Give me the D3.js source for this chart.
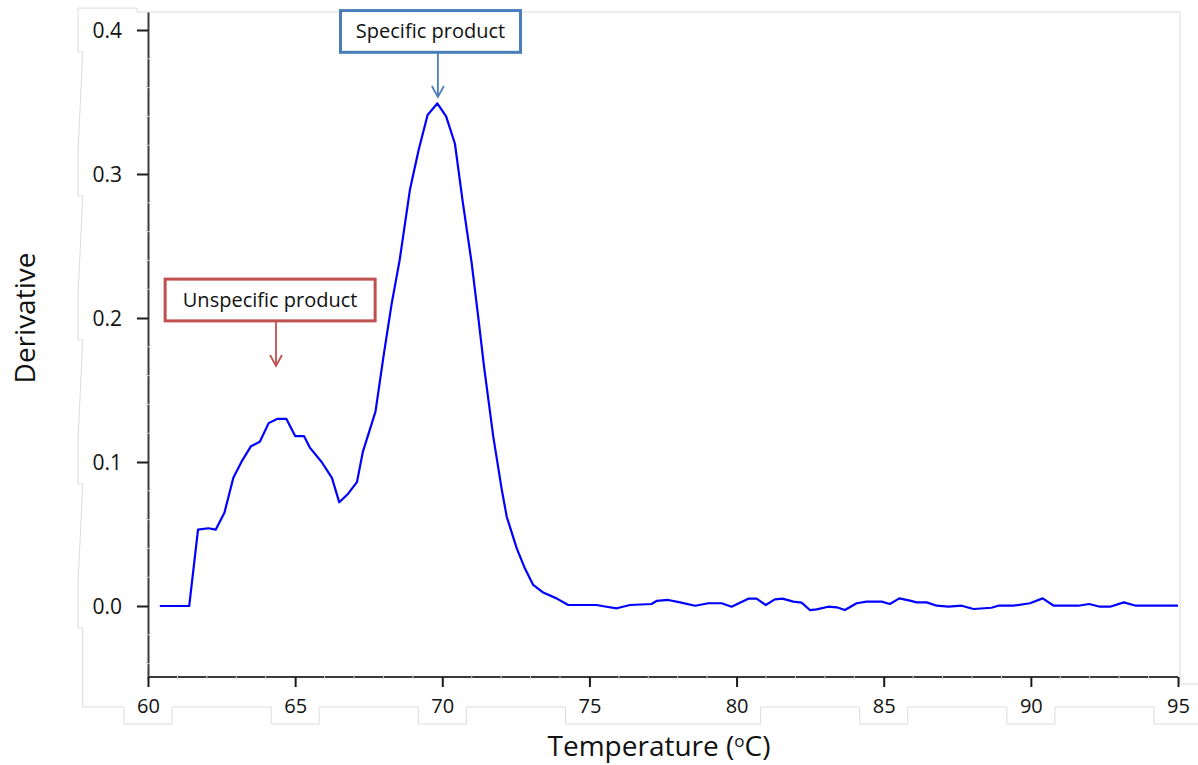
<!DOCTYPE html>
<html>
<head>
<meta charset="utf-8">
<script src="https://cdn.jsdelivr.net/npm/d3@7"></script>
<style>
  body { margin: 0; background: #fff; }
  text { font-family: "Open Sans", "Noto Sans", sans-serif; }
</style>
</head>
<body>
<div id="chart"></div>
<script>
// melt curve
let temps = [60.4, 61.4, 61.7, 62.05, 62.3, 62.6, 62.9, 63.2, 63.5, 63.8, 64.1, 64.4, 64.7,
             65.0, 65.3, 65.5, 65.9, 66.25, 66.5, 66.8, 67.1, 67.3, 67.73, 68.0, 68.28, 68.55,
             68.9, 69.2, 69.5, 69.83, 70.13, 70.43, 70.7, 71.0, 71.22, 71.42, 71.73, 72.02,
             72.19, 72.53, 72.81, 73.09, 73.43, 73.88, 74.28, 75.24, 75.58, 75.93, 76.38,
             77.11, 77.28, 77.68, 78.08, 78.59, 79.04, 79.49, 79.83, 80.4, 80.68, 80.99,
             81.3, 81.56, 81.93, 82.21, 82.49, 82.72, 83.11, 83.4, 83.68, 84.08, 84.42,
             84.93, 85.21, 85.53, 85.89, 86.12, 86.46, 86.8, 87.2, 87.65, 88.05, 88.66,
             88.89, 89.4, 89.97, 90.4, 90.78, 91.61, 91.98, 92.35, 92.69, 93.16, 93.57, 95.0];
let derivative = [0, 0, 0.053, 0.054, 0.053, 0.065, 0.089, 0.101, 0.111, 0.114, 0.127, 0.130, 0.130,
             0.118, 0.118, 0.110, 0.100, 0.089, 0.072, 0.078, 0.086, 0.107, 0.135, 0.173, 0.210, 0.240,
             0.289, 0.317, 0.341, 0.349, 0.340, 0.321, 0.280, 0.238, 0.201, 0.166, 0.118, 0.081,
             0.062, 0.040, 0.026, 0.0146, 0.0093, 0.0053, 0.0007, 0.0007, -0.0005, -0.0016, 0.0007,
             0.0014, 0.0035, 0.0042, 0.0025, 0.0002, 0.0019, 0.0019, -0.0005, 0.0051, 0.0051, 0.0007,
             0.0046, 0.0051, 0.003, 0.0023, -0.0028, -0.0023, -0.0005, -0.0009, -0.0028, 0.0019, 0.003,
             0.003, 0.0014, 0.0053, 0.0037, 0.0025, 0.0025, 0.0002, -0.0005, 0.0002, -0.0021, -0.0012,
             0.0002, 0.0002, 0.0019, 0.0053, 0.0002, 0.0002, 0.0014, -0.0005, -0.0005, 0.0025, 0.0002, 0.0002];

let xTicks = [60, 65, 70, 75, 80, 85, 90, 95];
let yTicks = [0.0, 0.1, 0.2, 0.3, 0.4];
// label panels behind the x tick labels (75 and 80 share one)
let xPanels = [[60, 60], [65, 65], [70, 70], [75, 80], [85, 85], [90, 90], [95, 95]];

let larg = 1198;
let alt = 765;

let svg = d3.select("#chart")
            .append("svg")
            .attr("width", larg)
            .attr("height", alt);

svg.append("rect").attr("width", larg).attr("height", alt).attr("fill", "white");

var x = d3.scaleLinear()
            .domain([60, 95])
            .range([148, 1178]);

var y = d3.scaleLinear()
            .domain([-0.05, 0.4125])
            .range([678, 12]);

// faint panel outline (label backgrounds)
let outline = [[x(95) + 2, 684], [x(95) + 2, y(0.4125)], [137, y(0.4125)], [137, y(0.4) - 22]];
yTicks.slice().reverse().forEach(function(t) {
    outline.push([78, y(t) - 22], [78, y(t) + 22], [82.7, y(t) + 22]);
});
outline.push([82.7, 707]);
xPanels.forEach(function(p) {
    let a = x(p[0]) - 24, b = Math.min(x(p[1]) + 24, larg);
    outline.push([a, 707], [a, 724], [b, 724]);
    if (b < larg) outline.push([b, 707]);
});
svg.append("path")
    .attr("d", d3.line()(outline))
    .attr("fill", "none")
    .attr("stroke", "#dcdcdc")
    .attr("stroke-width", 1);
svg.append("line")
    .attr("x1", x(95) + 2).attr("x2", larg)
    .attr("y1", 684).attr("y2", 684)
    .attr("stroke", "#dcdcdc");

// minor ticks
let yMinor = d3.range(-0.04, 0.41, 0.02).filter(v => Math.abs(v * 10 - Math.round(v * 10)) > 0.01);
let xMinor = d3.range(61, 95, 1).filter(v => v % 5 != 0);

// axes
let yAxis = svg.append("g")
    .attr("transform", "translate(148,0)")
    .call(d3.axisLeft(y).tickValues(yTicks).tickFormat(d3.format(".1f")).tickSize(11).tickPadding(15).tickSizeOuter(0));
let xAxis = svg.append("g")
    .attr("transform", "translate(0,677)")
    .call(d3.axisBottom(x).tickValues(xTicks).tickSize(10).tickPadding(12).tickSizeOuter(0));

[yAxis, xAxis].forEach(function(g) {
    g.select(".domain").attr("stroke", "#3a3a3a").attr("stroke-width", 2);
    g.selectAll(".tick line").attr("stroke", "#1a1a1a").attr("stroke-width", 2);
    g.selectAll(".tick text").attr("fill", "#111").style("font-size", "20px");
});
yAxis.selectAll(".tick text").style("font-size", "21px").attr("dy", "0.38em");
xAxis.select(".domain").attr("d", "M" + x(60) + ",0H" + x(95));

svg.append("g").selectAll("line")
    .data(yMinor)
    .enter()
        .append("line")
        .attr("x1", 146).attr("x2", 150)
        .attr("y1", d => y(d)).attr("y2", d => y(d))
        .attr("stroke", "#d0d0d0");
svg.append("g").selectAll("line")
    .data(xMinor)
    .enter()
        .append("line")
        .attr("x1", d => x(d)).attr("x2", d => x(d))
        .attr("y1", 675).attr("y2", 679)
        .attr("stroke", "#d0d0d0");

// curve
let curve = d3.line()
    .x((d, i) => x(temps[i]))
    .y(d => y(d));
svg.append("path")
    .attr("d", curve(derivative))
    .attr("fill", "none")
    .attr("stroke", "#0000ff")
    .attr("stroke-width", 2.2)
    .attr("stroke-linejoin", "round");

// axis titles
svg.append("text")
    .attr("transform", "translate(35,318) rotate(-90)")
    .attr("text-anchor", "middle")
    .style("font-size", "28px")
    .attr("fill", "#111")
    .text("Derivative");

let xt = svg.append("text")
    .attr("x", 659).attr("y", 756)
    .attr("text-anchor", "middle")
    .style("font-size", "28px")
    .attr("fill", "#111");
xt.append("tspan").text("Temperature (");
xt.append("tspan").attr("dy", -9).style("font-size", "17px").text("o");
xt.append("tspan").attr("dy", 9).text("C)");

// annotations
let notes = [
    {label: "Specific product",   cx: 69.6, top: 0.4135, bottom: 0.3845, arrowX: 69.85, tip: 0.3535, color: "#4a7ebb", w: 180},
    {label: "Unspecific product", cx: 64.15, top: 0.227, bottom: 0.198, arrowX: 64.35, tip: 0.1667, color: "#c0504d", w: 210}
];
notes.forEach(function(n) {
    let g = svg.append("g");
    let ax = x(n.arrowX);
    g.append("line")
        .attr("x1", ax).attr("x2", ax)
        .attr("y1", y(n.bottom)).attr("y2", y(n.tip))
        .attr("stroke", n.color).attr("stroke-width", 1.8);
    g.append("path")
        .attr("d", "M" + (ax - 6) + "," + (y(n.tip) - 11) + "L" + ax + "," + y(n.tip) + "L" + (ax + 6) + "," + (y(n.tip) - 11))
        .attr("fill", "none")
        .attr("stroke", n.color).attr("stroke-width", 1.8);
    g.append("rect")
        .attr("x", x(n.cx) - n.w / 2)
        .attr("y", y(n.top))
        .attr("width", n.w)
        .attr("height", y(n.bottom) - y(n.top))
        .attr("fill", "white")
        .attr("stroke", n.color)
        .attr("stroke-width", 3);
    g.append("text")
        .attr("x", x(n.cx))
        .attr("y", (y(n.top) + y(n.bottom)) / 2 + 7)
        .attr("text-anchor", "middle")
        .style("font-size", "20px")
        .attr("fill", "#111")
        .text(n.label);
});
</script>
</body>
</html>
